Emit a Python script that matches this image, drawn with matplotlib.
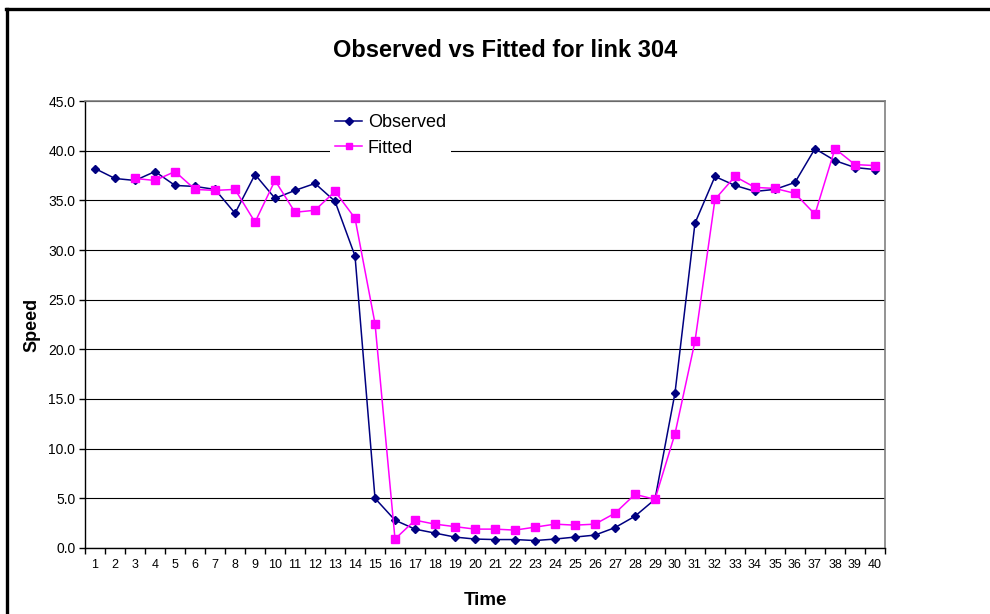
import numpy as np
import matplotlib.pyplot as plt
from matplotlib.lines import Line2D

plt.rcParams['font.family'] = ['Liberation Sans', 'DejaVu Sans']

# data
time = list(range(1, 41))
observed = [38.2, 37.2, 37.0, 37.9, 36.5, 36.4, 36.1, 33.7, 37.6, 35.2,
            36.0, 36.7, 34.9, 29.4, 5.0, 2.8, 1.9, 1.5, 1.1, 0.9,
            0.85, 0.85, 0.75, 0.9, 1.1, 1.3, 2.05, 3.2, 4.9, 15.6,
            32.7, 37.4, 36.5, 35.9, 36.1, 36.8, 40.2, 39.0, 38.3, 38.1]
fitted = [np.nan, np.nan, 37.2, 37.0, 37.9, 36.1, 36.0, 36.1, 32.8, 37.0,
          33.8, 34.0, 35.9, 33.2, 22.6, 0.9, 2.8, 2.4, 2.15, 1.9,
          1.9, 1.8, 2.1, 2.4, 2.3, 2.4, 3.5, 5.4, 4.9, 11.5,
          20.8, 35.1, 37.4, 36.3, 36.2, 35.7, 33.6, 40.2, 38.6, 38.5]
yticks = np.arange(0, 45.1, 5)

fig = plt.figure(figsize=(9.9, 6.14), dpi=100)
ax = fig.add_axes([0.0859, 0.1075, 0.808, 0.728])

ax.plot(time, observed, color='#000080', marker='D', markersize=4.5,
        linewidth=1.1, label='Observed', zorder=3)
ax.plot(time, fitted, color='#FF00FF', marker='s', markersize=6,
        linewidth=1.1, label='Fitted', zorder=3)

ax.set_xlim(0.5, 40.5)
ax.set_ylim(0, 45)
ax.set_yticks(yticks)
ax.set_yticklabels(['%.1f' % v for v in yticks], fontsize=10)
ax.set_xticks(time)
ax.set_xticklabels([str(t) for t in time], fontsize=9)
ax.set_xticks(np.arange(0.5, 41, 1), minor=True)
ax.tick_params(axis='x', which='major', length=0, pad=8)
ax.tick_params(axis='x', which='minor', length=4, direction='out', width=1)
ax.tick_params(axis='y', length=4, direction='out', width=1, pad=3)

ax.yaxis.grid(True, color='black', linewidth=0.8)
ax.set_axisbelow(True)
for s in ['top', 'right']:
    ax.spines[s].set_color('#808080')
    ax.spines[s].set_linewidth(1.2)
for s in ['left', 'bottom']:
    ax.spines[s].set_color('black')
    ax.spines[s].set_linewidth(1)

ax.set_xlabel('Time', fontsize=13.5, fontweight='bold', labelpad=15)
ax.set_ylabel('Speed', fontsize=13, fontweight='bold', labelpad=5.5)
fig.text(0.51, 0.918, 'Observed vs Fitted for link 304', ha='center',
         va='center', fontsize=17, fontweight='bold')

leg = ax.legend(loc='upper left', bbox_to_anchor=(0.306, 0.982),
                borderaxespad=0, fontsize=13, frameon=True, fancybox=False,
                handlelength=1.5, handletextpad=0.3, labelspacing=0.45,
                markerscale=0.8, borderpad=0.3)
leg.get_frame().set_facecolor('white')
leg.get_frame().set_edgecolor('none')
leg.get_frame().set_alpha(1)

# outer chart frame (left and top edges visible)
fig.add_artist(Line2D([0.007, 0.007], [0, 0.985], color='black', linewidth=2.4,
                      transform=fig.transFigure))
fig.add_artist(Line2D([0.0058, 1.0], [0.985, 0.985], color='black', linewidth=2.4,
                      transform=fig.transFigure))

fig.savefig('out.png', dpi=100)
